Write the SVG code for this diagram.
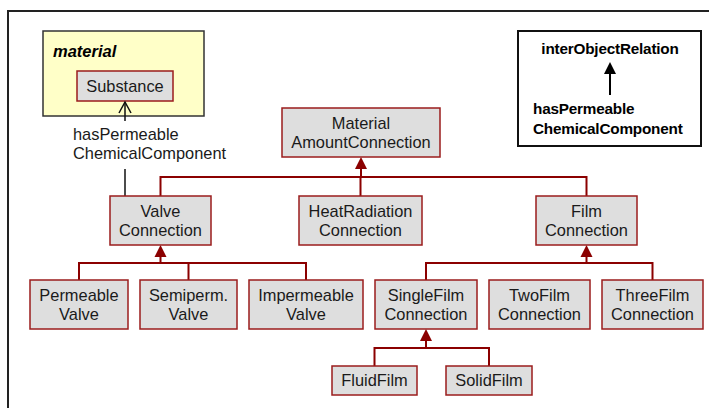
<svg xmlns="http://www.w3.org/2000/svg" width="709" height="408" viewBox="0 0 709 408">
<style>
text{font-family:"Liberation Sans",Arial,sans-serif;font-size:16.4px;fill:#1a1a1a}
.c{text-anchor:middle}
.b{font-weight:bold;fill:#000;font-size:15.3px;letter-spacing:-0.2px}
.n rect{fill:#dedede;stroke:#9b1c1c;stroke-width:1.5}
.e{fill:none;stroke:#8b0000;stroke-width:2}
</style>
<path d="M8,408 V11 H709" fill="none" stroke="#222" stroke-width="2"/>
<g id="material">
<rect x="43" y="31" width="161" height="85" fill="#ffffc8" stroke="#333" stroke-width="1.5"/>
<text x="53" y="57" font-weight="bold" font-style="italic" style="fill:#000;font-size:16.5px">material</text>
</g>
<g id="substance" class="n">
<rect x="77" y="71" width="96" height="30"/>
<text class="c" x="125" y="92">Substance</text>
</g>
<g id="legend">
<rect x="518" y="31" width="183" height="115" fill="#fff" stroke="#111" stroke-width="2"/>
<text class="c b" x="610" y="54">interObjectRelation</text>
<line x1="610" y1="72" x2="610" y2="95" stroke="#000" stroke-width="2"/>
<path d="M604,74 L610,62 L616,74 Z" fill="#000"/>
<text class="b" x="533" y="114">hasPermeable</text>
<text class="b" x="533" y="134">ChemicalComponent</text>
</g>
<g id="connectors">
<line x1="125" y1="102" x2="125" y2="121" stroke="#111" stroke-width="1.5"/>
<path d="M119,113 L125,102 L131,113" fill="none" stroke="#111" stroke-width="1.5"/>
<line x1="125" y1="169" x2="125" y2="196" stroke="#111" stroke-width="1.5"/>
<text x="73" y="140">hasPermeable</text>
<text x="73" y="159">ChemicalComponent</text>
<path class="e" d="M160.5,196 V177 H586.5 V196 M360.5,196 V177 M361,177 V168"/>
<path d="M355,169 L361,157 L367,169 Z" fill="#8b0000"/>
<path class="e" d="M79,280 V263 H306 V280 M188.5,280 V263 M160.5,263 V256"/>
<path d="M154.5,257 L160.5,245 L166.5,257 Z" fill="#8b0000"/>
<path class="e" d="M426,280 V263 H652.5 V280 M586.5,263 V256"/>
<path d="M580.5,257 L586.5,245 L592.5,257 Z" fill="#8b0000"/>
<path class="e" d="M374.5,366 V348 H489 V366 M426,348 V340"/>
<path d="M420,341 L426,329 L432,341 Z" fill="#8b0000"/>
</g>
<g id="mac" class="n"><rect x="282" y="108" width="158" height="49"/><text class="c" x="361" y="129">Material</text><text class="c" x="361" y="148">AmountConnection</text></g>
<g id="valve" class="n"><rect x="110" y="196" width="101" height="49"/><text class="c" x="160.5" y="217">Valve</text><text class="c" x="160.5" y="236">Connection</text></g>
<g id="heat" class="n"><rect x="299" y="196" width="123" height="49"/><text class="c" x="360.5" y="217">HeatRadiation</text><text class="c" x="360.5" y="236">Connection</text></g>
<g id="film" class="n"><rect x="536" y="196" width="101" height="49"/><text class="c" x="586.5" y="217">Film</text><text class="c" x="586.5" y="236">Connection</text></g>
<g id="perm" class="n"><rect x="30" y="280" width="98" height="49"/><text class="c" x="79" y="301">Permeable</text><text class="c" x="79" y="320">Valve</text></g>
<g id="semi" class="n"><rect x="140" y="280" width="97" height="49"/><text class="c" x="188.5" y="301">Semiperm.</text><text class="c" x="188.5" y="320">Valve</text></g>
<g id="imperm" class="n"><rect x="249" y="280" width="114" height="49"/><text class="c" x="306" y="301">Impermeable</text><text class="c" x="306" y="320">Valve</text></g>
<g id="single" class="n"><rect x="375" y="280" width="102" height="49"/><text class="c" x="426" y="301">SingleFilm</text><text class="c" x="426" y="320">Connection</text></g>
<g id="two" class="n"><rect x="489" y="280" width="101" height="49"/><text class="c" x="539.5" y="301">TwoFilm</text><text class="c" x="539.5" y="320">Connection</text></g>
<g id="three" class="n"><rect x="602" y="280" width="101" height="49"/><text class="c" x="652.5" y="301">ThreeFilm</text><text class="c" x="652.5" y="320">Connection</text></g>
<g id="fluid" class="n"><rect x="332" y="366" width="85" height="29"/><text class="c" x="374.5" y="386">FluidFilm</text></g>
<g id="solid" class="n"><rect x="446" y="366" width="86" height="29"/><text class="c" x="489" y="386">SolidFilm</text></g>
</svg>
